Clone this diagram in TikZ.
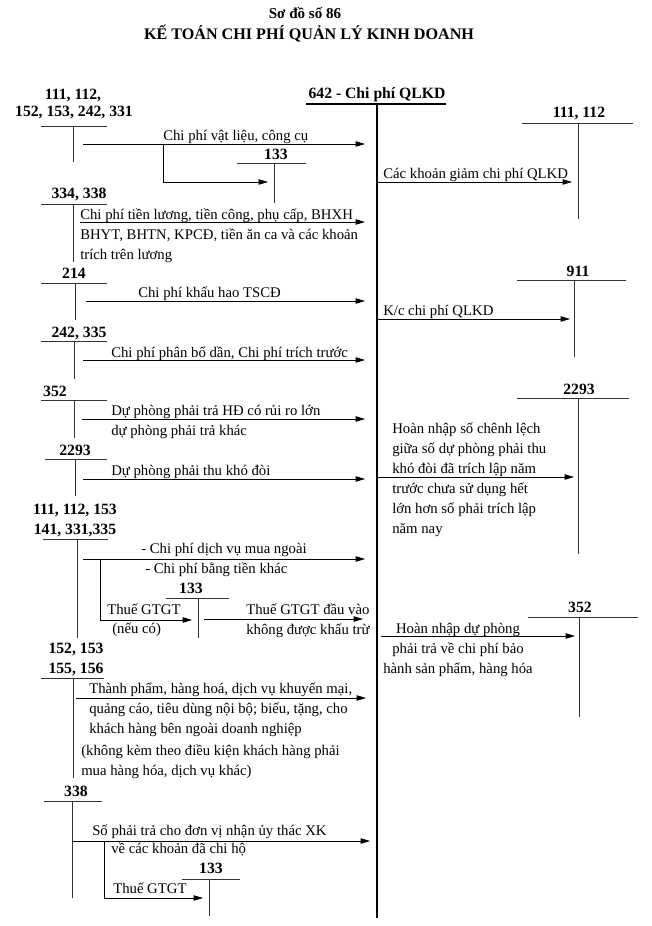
\documentclass[tikz,border=0pt]{standalone}
\usepackage{fontspec}
\setmainfont{Liberation Serif}
\usetikzlibrary{arrows.meta,positioning}

\begin{document}
\begin{tikzpicture}[x=0.028cm,y=-0.028cm,>={Triangle[length=2.6mm,width=1.5mm]},
 font=\fontsize{11.75}{15.8}\selectfont,
 acc/.style={font=\fontsize{12.5}{15}\selectfont\bfseries,inner sep=0pt,anchor=base},
 txt/.style={inner sep=0pt,anchor=base west,align=left},
 tline/.style={line width=0.6pt,black!80},
 flow/.style={->,line width=0.6pt}]
\useasboundingbox (0,0) rectangle (651,926);

% tieu de
\node[acc,font=\fontsize{12}{15}\selectfont\bfseries] (ttl1) at (305,19) {Sơ đồ số 86};
\node[acc,font=\fontsize{12.85}{16}\selectfont\bfseries] (ttl2) at (309,40) {KẾ TOÁN CHI PHÍ QUẢN LÝ KINH DOANH};

% TK 642
\node[acc] (n642) at (377,99) {642 - Chi phí QLKD};
\draw[line width=1.4pt] (306,104) -- (446,104) (377,104) -- (377,918);

% 111, 112, 152, 153, 242, 331
\node[acc] (n111a) at (73,100) {111, 112,};
\node[acc] (n152a) at (74,117) {152, 153, 242, 331};
\draw[tline] (41,126) -- (107,126) (73,126) -- (73,162);
\coordinate (s1) at (83,144); \coordinate (e1) at (365,144);
\coordinate (b1) at (163,144); \coordinate (e1b) at (268,182);
\draw[flow] (s1) -- (e1);
\draw[flow] (b1) |- (e1b);
\node[txt] (t1) at (163,141) {Chi phí vật liệu, công cụ};
\node[acc] (n133a) at (276,159) {133};
\draw[tline] (237,163) -- (306,163) (274,163) -- (274,203);

% 334, 338
\node[acc] (n334) at (79,198) {334, 338};
\draw[tline] (41,204) -- (107,204) (73,204) -- (73,262);
\coordinate (s2) at (80,222); \coordinate (e2) at (365,222);
\draw[flow] (s2) -- (e2);
\node[txt] (t2) at (80,259) {Chi phí tiền lương, tiền công, phụ cấp, BHXH\\BHYT, BHTN, KPCĐ, tiền ăn ca và các khoản\\trích trên lương};

% 214
\node[acc] (n214) at (74,278) {214};
\draw[tline] (41,283) -- (107,283) (75,283) -- (75,320);
\coordinate (s3) at (86,301); \coordinate (e3) at (365,301);
\draw[flow] (s3) -- (e3);
\node[txt] (t3) at (138,297) {Chi phí khấu hao TSCĐ};

% 242, 335
\node[acc] (n242) at (79,337) {242, 335};
\draw[tline] (41,341) -- (107,341) (74,341) -- (74,379);
\coordinate (s4) at (83,360); \coordinate (e4) at (365,360);
\draw[flow] (s4) -- (e4);
\node[txt] (t4) at (111,357) {Chi phí phân bổ dần, Chi phí trích trước};

% 352
\node[acc] (n352a) at (55,396) {352};
\draw[tline] (41,400) -- (107,400) (74,400) -- (74,438);
\coordinate (s5) at (82,419); \coordinate (e5) at (365,419);
\draw[flow] (s5) -- (e5);
\node[txt] (t5) at (111,435) {Dự phòng phải trả HĐ có rủi ro lớn\\dự phòng phải trả khác};

% 2293
\node[acc] (n2293a) at (75,455) {2293};
\draw[tline] (45,459) -- (107,459) (75,459) -- (75,496);
\coordinate (s6) at (83,479); \coordinate (e6) at (365,479);
\draw[flow] (s6) -- (e6);
\node[txt] (t6) at (111,475) {Dự phòng phải thu khó đòi};

% 111, 112, 153, 141, 331, 335
\node[acc] (n111b) at (75,514) {111, 112, 153};
\node[acc] (n141) at (75,534) {141, 331,335};
\draw[tline] (43,539) -- (108,539) (77,539) -- (77,638);
\coordinate (s7) at (83,559); \coordinate (e7) at (365,559);
\coordinate (b7) at (100,559); \coordinate (e7b) at (192,620);
\draw[flow] (s7) -- (e7);
\draw[flow] (b7) |- (e7b);
\node[txt] (t7a) at (141,553) {- Chi phí dịch vụ mua ngoài};
\node[txt] (t7b) at (145,573) {- Chi phí bằng tiền khác};
\node[txt] (t7c) at (107,614) {Thuế GTGT};
\node[txt] (t7d) at (112,633) {(nếu có)};
\node[acc] (n133b) at (191,593) {133};
\draw[tline] (166,598) -- (229,598) (198,598) -- (198,638);
\coordinate (s8) at (204,619); \coordinate (e8) at (363,619);
\draw[flow] (s8) -- (e8);
\node[txt] (t8) at (246,634) {Thuế GTGT đầu vào\\không được khấu trừ};

% 152, 153, 155, 156
\node[acc] (n152b) at (76,653) {152, 153};
\node[acc] (n155) at (76,673) {155, 156};
\draw[tline] (41,678) -- (104,678) (73,678) -- (73,778);
\coordinate (s9) at (76,698); \coordinate (e9) at (366,698);
\draw[flow] (s9) -- (e9);
\node[txt] (t9a) at (89,733) {Thành phẩm, hàng hoá, dịch vụ khuyến mại,\\quảng cáo, tiêu dùng nội bộ; biếu, tặng, cho\\khách hàng bên ngoài doanh nghiệp};
\node[txt] (t9b) at (81,775) {(không kèm theo điều kiện khách hàng phải\\mua hàng hóa, dịch vụ khác)};

% 338
\node[acc] (n338) at (76,796) {338};
\draw[tline] (44,801) -- (102,801) (72,801) -- (72,898);
\coordinate (s10) at (72,841); \coordinate (e10) at (370,841);
\coordinate (b10) at (104,841); \coordinate (e10b) at (203,898);
\draw[flow] (s10) -- (e10);
\draw[flow] (b10) |- (e10b);
\node[txt] (t10a) at (92,835) {Số phải trả cho đơn vị nhận ủy thác XK};
\node[txt] (t10b) at (111,853) {về các khoản đã chi hộ};
\node[txt] (t10c) at (113,893) {Thuế GTGT};
\node[acc] (n133c) at (211,873) {133};
\draw[tline] (182,879) -- (240,879) (209,879) -- (209,916);

% ben phai
\node[acc] (n111r) at (579,118) {111, 112};
\draw[tline] (522,123) -- (633,123) (578,123) -- (578,219);
\coordinate (r1) at (377,182); \coordinate (f1) at (572,182);
\draw[flow] (r1) -- (f1);
\node[txt] (u1) at (383,178) {Các khoản giảm chi phí QLKD};

\node[acc] (n911) at (578,276) {911};
\draw[tline] (517,280) -- (626,280) (574,280) -- (574,357);
\coordinate (r2) at (377,319); \coordinate (f2) at (570,319);
\draw[flow] (r2) -- (f2);
\node[txt] (u2) at (383,315) {K/c chi phí QLKD};

\node[acc] (n2293r) at (579,394) {2293};
\draw[tline] (517,398) -- (629,398) (578,398) -- (578,554);
\coordinate (r3) at (377,477); \coordinate (f3) at (574,477);
\draw[flow] (r3) -- (f3);
\node[txt] (u3) at (392,533) {Hoàn nhập số chênh lệch\\giữa số dự phòng phải thu\\khó đòi đã trích lập năm\\trước chưa sử dụng hết\\lớn hơn số phải trích lập\\năm nay};

\node[acc] (n352r) at (580,612) {352};
\draw[tline] (528,617) -- (638,617) (579,617) -- (579,717);
\coordinate (r4) at (381,636); \coordinate (f4) at (575,636);
\draw[flow] (r4) -- (f4);
\node[txt,align=center,anchor=base] (u4) at (458,673) {Hoàn nhập dự phòng\\phải trả về chi phí bảo\\hành sản phẩm, hàng hóa};
\end{tikzpicture}
\end{document}
